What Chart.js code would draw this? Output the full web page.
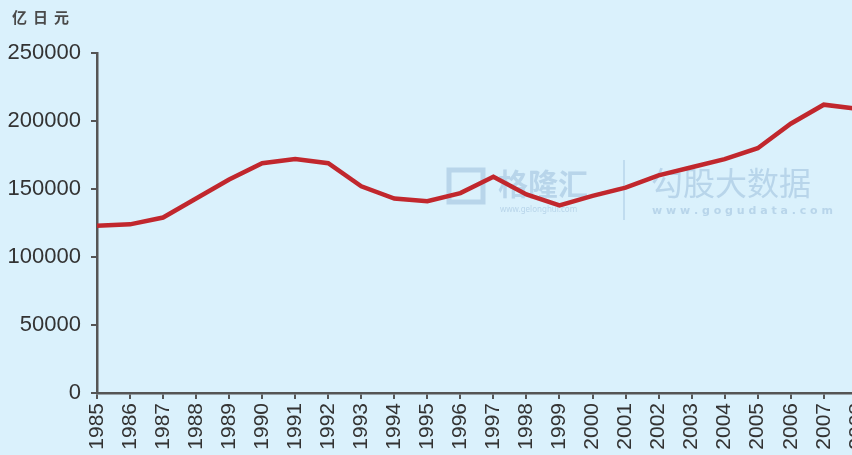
<!DOCTYPE html>
<html>
<head>
<meta charset="utf-8">
<script src="https://cdn.jsdelivr.net/npm/chart.js@4/dist/chart.umd.min.js"></script>
<style>
html,body{margin:0;padding:0;width:852px;height:455px;overflow:hidden;background:#daf1fc;}
#wrap{position:relative;width:852px;height:455px;overflow:hidden;}
canvas{position:absolute;left:0;top:0;}
</style>
</head>
<body>
<div id="wrap"><canvas id="c" width="886" height="470"></canvas></div>
<script>
const years = ['1985','1986','1987','1988','1989','1990','1991','1992','1993','1994','1995','1996','1997','1998','1999','2000','2001','2002','2003','2004','2005','2006','2007','2008'];
const values = [123000,124000,129000,143000,157000,169000,172000,169000,152000,143000,141000,147000,159000,146000,138000,145000,151000,160000,166000,172000,180000,198000,212000,209000];
const yTicks = [0,50000,100000,150000,200000,250000];
const unitLabel = '亿日元';

const watermark = {
  id:'watermark',
  beforeDatasetsDraw(chart){
    const ctx = chart.ctx;
    ctx.save();
    ctx.fillStyle = 'rgba(120,160,200,0.35)';
    ctx.strokeStyle = 'rgba(120,160,200,0.35)';
    ctx.lineWidth = 5;
    ctx.strokeRect(449,170,34,32);
    ctx.font = 'bold 30px "Noto Sans CJK SC"';
    ctx.textBaseline = 'middle';
    ctx.fillText('格隆汇', 498, 184);
    ctx.font = '8px "Noto Sans"';
    ctx.fillText('www.gelonghui.com', 500, 210);
    ctx.lineWidth = 1.5;
    ctx.beginPath(); ctx.moveTo(624,160); ctx.lineTo(624,220); ctx.stroke();
    ctx.font = '32px "Noto Sans CJK SC"';
    ctx.fillText('勾股大数据', 651, 183);
    ctx.font = 'bold 11px "DejaVu Sans"';
    ctx.fillText('w w w . g o g u d a t a . c o m', 652, 211);
    ctx.restore();
  }
};

const unitPlugin = {
  id:'unit',
  afterDraw(chart){
    const ctx = chart.ctx;
    ctx.save();
    ctx.fillStyle = '#4a4a4a';
    ctx.font = 'bold 15px "Noto Sans CJK SC"';
    ctx.textBaseline = 'middle';
    [...unitLabel].forEach((ch,i)=>ctx.fillText(ch, 12 + i*21, 17));
    ctx.restore();
  }
};

new Chart(document.getElementById('c'), {
  type:'line',
  data:{labels:years, datasets:[{data:values, borderColor:'#c1272d', borderWidth:4.5, pointRadius:0, tension:0, fill:false}]},
  options:{
    responsive:false, animation:false, devicePixelRatio:1,
    layout:{padding:{top:53,right:13,left:0,bottom:0}},
    plugins:{legend:{display:false}, tooltip:{enabled:false}},
    scales:{
      x:{
        offset:false,
        grid:{drawOnChartArea:false, drawTicks:true, tickLength:6, color:'#555', lineWidth:2},
        border:{color:'#555', width:2.5},
        ticks:{autoSkip:false, maxRotation:90, minRotation:90, color:'#333', padding:4, font:{family:'"Liberation Sans", Arial', size:21}},
        afterFit(s){ s.height = 77; }
      },
      y:{
        min:0, max:250000,
        afterBuildTicks(s){ s.ticks = yTicks.map(v=>({value:v})); },
        grid:{drawOnChartArea:false, drawTicks:true, tickLength:6, color:'#555', lineWidth:2},
        border:{color:'#555', width:2.5},
        ticks:{color:'#333', padding:10, font:{family:'"Liberation Sans", Arial', size:22}, callback:v=>String(v)},
        afterFit(s){ s.width = 97; }
      }
    }
  },
  plugins:[watermark, unitPlugin]
});
</script>
</body>
</html>
